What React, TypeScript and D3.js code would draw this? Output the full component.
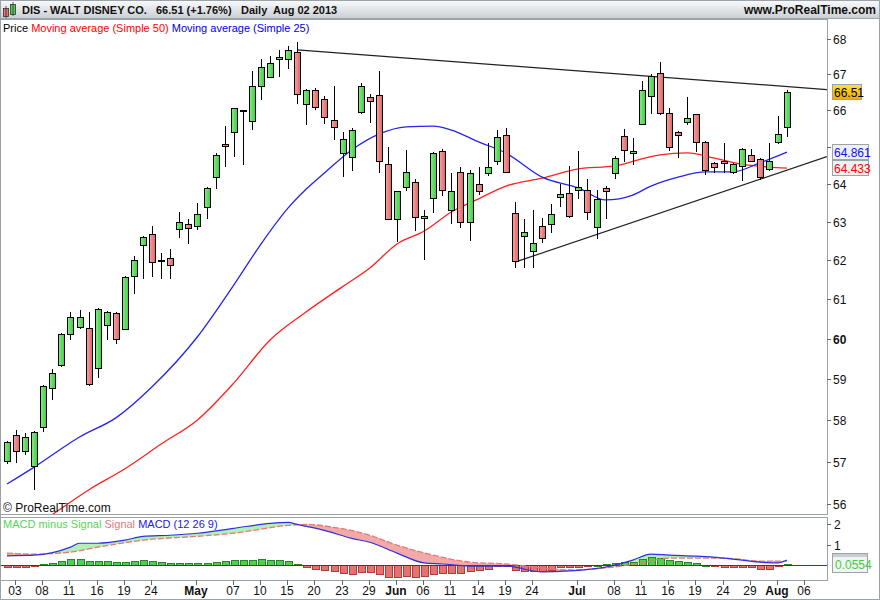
import * as d3 from 'd3';

// DIS daily, 2 Apr – 2 Aug 2013
const dates = [
  '04-02', '04-03', '04-04', '04-05', '04-08', '04-09', '04-10', '04-11', '04-12', '04-15', '04-16',
  '04-17', '04-18', '04-19', '04-22', '04-23', '04-24', '04-25', '04-26', '04-29', '04-30',
  '05-01', '05-02', '05-03', '05-06', '05-07', '05-08', '05-09', '05-10', '05-13', '05-14', '05-15',
  '05-16', '05-17', '05-20', '05-21', '05-22', '05-23', '05-24', '05-28', '05-29', '05-30', '05-31',
  '06-03', '06-04', '06-05', '06-06', '06-07', '06-10', '06-11', '06-12', '06-13', '06-14',
  '06-17', '06-18', '06-19', '06-20', '06-21', '06-24', '06-25', '06-26', '06-27', '06-28',
  '07-01', '07-02', '07-03', '07-05', '07-08', '07-09', '07-10', '07-11', '07-12', '07-15', '07-16',
  '07-17', '07-18', '07-19', '07-22', '07-23', '07-24', '07-25', '07-26', '07-29', '07-30', '07-31',
  '08-01', '08-02',
];

const open = [
  57.02, 57.64, 57.26, 56.9, 57.83, 58.78, 59.35, 60.12, 60.3, 60.28, 59.27,
  60.35, 60.65, 60.25, 61.59, 62.39, 62.68, 61.99, 62.05, 62.82, 62.95,
  62.89, 63.39, 64.18, 65.08, 65.42, 66.0, 65.72, 66.69, 66.94, 67.43, 67.43,
  67.63, 66.17, 66.58, 66.33, 65.75, 64.84, 64.74, 65.97, 66.36, 66.44, 64.55,
  63.08, 63.92, 64.05, 63.1, 63.63, 64.89, 63.32, 64.32, 63.0, 64.0,
  64.29, 64.61, 65.33, 63.24, 62.63, 62.24, 62.89, 62.95, 63.66, 63.76,
  63.84, 63.84, 62.87, 63.9, 64.29, 65.29, 64.84, 65.64, 66.39, 67.03, 65.94,
  65.42, 65.69, 65.89, 65.14, 64.58, 64.63, 64.32, 64.5, 64.79, 64.68, 64.42,
  65.14, 65.56,
];
const high = [
  57.5, 57.76, 57.69, 57.74, 58.85, 59.25, 60.15, 60.68, 60.72, 60.68, 60.78,
  60.7, 60.68, 61.6, 62.1, 62.63, 62.89, 62.18, 62.29, 63.26, 63.08,
  63.5, 63.92, 64.84, 65.58, 66.08, 66.02, 67.11, 67.43, 67.51, 67.69, 67.8,
  67.91, 66.6, 66.61, 66.39, 66.69, 65.42, 65.53, 66.75, 66.47, 67.11, 65.0,
  63.82, 64.92, 64.13, 63.32, 64.86, 64.95, 64.29, 64.45, 64.39, 64.45,
  65.11, 65.47, 65.53, 63.53, 63.08, 63.32, 63.1, 63.47, 64.0, 64.5,
  64.89, 64.13, 63.84, 63.95, 64.76, 65.5, 65.26, 66.83, 67.0, 67.36, 66.08,
  65.44, 66.36, 65.91, 65.16, 64.6, 65.11, 64.57, 64.97, 64.95, 64.7, 65.11,
  65.86, 66.58,
];
const low = [
  56.97, 57.0, 57.19, 56.36, 57.74, 58.5, 59.33, 60.0, 60.28, 58.86, 59.05,
  60.0, 59.9, 60.25, 61.15, 61.54, 61.59, 61.54, 61.54, 62.6, 62.45,
  62.82, 63.1, 63.9, 64.5, 64.76, 64.55, 65.5, 66.33, 66.92, 66.97, 67.17,
  66.2, 65.64, 66.03, 65.67, 65.22, 64.21, 64.37, 65.92, 65.69, 64.32, 63.08,
  62.5, 63.84, 62.79, 62.03, 63.26, 63.71, 62.97, 62.87, 62.53, 63.74,
  64.24, 64.55, 64.32, 61.82, 61.82, 61.82, 62.47, 62.74, 63.42, 63.14,
  63.63, 63.08, 62.58, 63.1, 64.16, 64.63, 64.55, 65.62, 65.92, 65.89, 64.92,
  64.74, 65.64, 64.89, 64.26, 64.32, 64.32, 64.29, 64.11, 64.61, 64.13, 64.37,
  65.11, 65.29,
];
const close = [
  57.47, 57.26, 57.6, 57.71, 58.83, 59.15, 60.12, 60.55, 60.55, 58.88, 60.75,
  60.68, 60.0, 61.56, 62.0, 62.6, 61.95, 62.0, 61.87, 63.0, 62.84,
  63.21, 63.9, 64.79, 65.03, 66.06, 65.98, 66.67, 67.2, 67.31, 67.49, 67.69,
  66.47, 66.58, 66.11, 65.83, 65.56, 65.22, 65.47, 66.69, 66.25, 64.63, 63.08,
  63.82, 64.34, 63.13, 63.16, 64.84, 63.84, 63.82, 63.0, 64.29, 63.82,
  64.47, 65.28, 64.34, 61.97, 62.74, 62.45, 62.58, 63.21, 63.74, 63.16,
  63.92, 63.26, 63.61, 63.82, 64.71, 64.92, 64.89, 66.58, 66.97, 65.92, 65.0,
  65.33, 65.8, 65.14, 64.39, 64.45, 64.58, 64.55, 64.95, 64.61, 64.18, 64.63,
  65.36, 66.51,
];

// moving averages, [day index, value]
const ma50 = [
  [4, 55.6], [9, 56.33], [13, 56.83], [17, 57.42], [21, 58.0], [25, 58.9], [29, 59.97],
  [33, 60.68], [37, 61.32], [40, 61.8], [43, 62.42], [46, 62.76], [49, 63.26], [52, 63.61],
  [55, 63.95], [59, 64.16], [63, 64.41], [67, 64.49], [70, 64.68], [72, 64.79], [75, 64.84],
  [78, 64.7], [81, 64.54], [84, 64.46], [86, 64.433],
];
const ma25 = [
  [0, 56.47], [3, 56.87], [8, 57.59], [12, 58.05], [16, 58.81], [21, 60.05], [25, 61.36],
  [28, 62.42], [31, 63.37], [33, 63.87], [35, 64.3], [38, 64.92], [41, 65.35], [44, 65.55],
  [47, 65.57], [49, 65.46], [52, 65.14], [55, 64.84], [59, 64.19], [63, 63.9], [66, 63.58],
  [69, 63.71], [71, 63.95], [74, 64.19], [77, 64.33], [80, 64.33], [83, 64.57], [86, 64.861],
];

// MACD (12 26 9)
const macdLine = [
  [0, 0.45], [3, 0.48], [7, 0.87], [8, 1.06], [10, 1.06], [13, 1.21], [15, 1.4], [18, 1.45],
  [21, 1.55], [25, 1.79], [29, 2.03], [31, 2.08], [32, 1.98], [35, 1.69], [38, 1.3], [40, 1.11],
  [43, 0.58], [46, 0.1], [48, 0.05], [51, -0.05], [55, -0.05], [59, -0.34], [62, -0.29],
  [66, -0.1], [69, 0.24], [71, 0.53], [73, 0.48], [76, 0.43], [79, 0.34], [83, 0.14],
  [85, 0.1], [86, 0.24],
];
const signalLine = [
  [0, 0.58], [3, 0.53], [7, 0.63], [10, 0.87], [15, 1.21], [21, 1.4], [25, 1.55], [31, 1.93],
  [33, 1.98], [36, 1.84], [40, 1.45], [43, 0.97], [47, 0.48], [51, 0.14], [55, 0.05],
  [59, -0.14], [62, -0.24], [66, -0.14], [70, 0.1], [73, 0.34], [79, 0.34], [83, 0.19], [86, 0.19],
];
const macdHist = [
  -0.1, -0.1, -0.08, -0.07, 0.05, 0.1, 0.19, 0.27, 0.27, 0.19, 0.18,
  0.18, 0.14, 0.14, 0.18, 0.23, 0.18, 0.14, 0.11, 0.1, 0.1,
  0.1, 0.1, 0.14, 0.21, 0.24, 0.23, 0.23, 0.27, 0.23, 0.23, 0.18,
  0.05, -0.08, -0.19, -0.26, -0.31, -0.4, -0.45, -0.35, -0.35, -0.45, -0.6,
  -0.6, -0.55, -0.6, -0.55, -0.45, -0.4, -0.4, -0.4, -0.29, -0.24,
  -0.21, -0.05, -0.03, -0.24, -0.27, -0.27, -0.27, -0.24, -0.11, -0.11,
  -0.08, -0.01, 0.01, 0.03, 0.08, 0.13, 0.16, 0.27, 0.37, 0.32, 0.24,
  0.18, 0.13, 0.08, 0.01, -0.06, -0.11, -0.11, -0.11, -0.11, -0.18, -0.18,
  -0.06, 0.0554,
];

// hand-drawn trendlines, [day index, price]
const trendUpper = [[32, 67.69], [90.4, 66.58]];
const trendLower = [[56, 61.95], [90.4, 64.74]];

const tickIdx = [1, 4, 7, 10, 13, 16, 21, 25, 28, 31, 34, 37, 40, 43, 46, 49, 52, 55, 58, 63, 67, 70, 73, 76, 79, 82, 85, 88];
const tickLabels = ['03', '08', '11', '16', '19', '24', 'May', '07', '10', '15', '20', '23', '29', 'Jun', '06', '11', '14', '19', '24', 'Jul', '08', '11', '16', '19', '24', '29', 'Aug', '06'];
const priceTicks = [56, 57, 58, 59, 60, 61, 62, 63, 64, 65, 66, 67, 68];
const macdTicks = [1, 2];

const FONT = "Arial, 'Liberation Sans', sans-serif";
const W = 880;
const H = 600;
const plotRight = 827;
const priceTop = 19;
const priceBottom = 514;
const macdTop = 517;
const macdBottom = 580;

const App = () => {
  const x = d3.scaleLinear().domain([0, 86]).range([7, 787]);
  const y = d3.scaleLog().domain([56, 68]).range([504, 39]);
  const ym = d3.scaleLinear().domain([0, 2]).range([565, 524]);

  const priceLine = d3.line<number[]>()
    .x((d) => x(d[0]))
    .y((d) => y(d[1]))
    .curve(d3.curveMonotoneX);
  const straight = d3.line<number[]>()
    .x((d) => x(d[0]))
    .y((d) => y(d[1]));
  const macdPath = d3.line<number[]>()
    .x((d) => x(d[0]))
    .y((d) => ym(d[1]))
    .curve(d3.curveMonotoneX);

  const areaBelow = d3.area<number[]>()
    .x((d) => x(d[0])).y0((d) => ym(d[1])).y1(macdBottom)
    .curve(d3.curveMonotoneX);
  const areaAbove = d3.area<number[]>()
    .x((d) => x(d[0])).y0(macdTop).y1((d) => ym(d[1]))
    .curve(d3.curveMonotoneX);

  const last = close.length - 1;
  const pct = (close[last] / close[last - 1] - 1) * 100;
  const ma25Last = ma25[ma25.length - 1][1];
  const ma50Last = ma50[ma50.length - 1][1];

  // value boxes on the price axis hide the tick labels underneath them
  const boxYs = [y(close[last]), y(ma25Last), y(ma50Last)];
  const hidden = (p: number) => boxYs.some((b) => Math.abs(b - y(p)) < 10);

  const candles = dates.map((d, i) => {
    const cx = Math.round(x(i));
    const up = close[i] >= open[i];
    const top = Math.round(y(Math.max(open[i], close[i])));
    const bot = Math.round(y(Math.min(open[i], close[i])));
    return (
      <g key={d}>
        <line x1={cx + 0.5} x2={cx + 0.5} y1={Math.round(y(high[i]))} y2={Math.round(y(low[i])) + 1}
          stroke="#000" strokeWidth={1} />
        <rect x={cx - 2.5} y={top + 0.5} width={6} height={Math.max(1, bot - top)}
          fill={up ? 'url(#gUp)' : 'url(#gDown)'} stroke="#000" strokeWidth={1} />
      </g>
    );
  });

  const bars = macdHist.map((v, i) => {
    const cx = Math.round(x(i));
    const y0 = Math.round(ym(0));
    const y1 = Math.round(ym(v));
    const pos = v >= 0;
    return (
      <rect key={i} x={cx - 2.5} y={(pos ? y1 : y0) + 0.5} width={7}
        height={Math.max(1, Math.abs(y1 - y0))}
        fill={pos ? '#4fcf4f' : '#e57171'} stroke={pos ? '#238a23' : '#b23c3c'} strokeWidth={1} />
    );
  });

  const valueBox = (cy: number, label: string, color: string, fill: string, w = 36) => (
    <g>
      <rect x={832.5} y={Math.round(cy) - 7.5} width={w} height={15} fill={fill} stroke="#9aa3aa" />
      <text x={834} y={Math.round(cy) + 4.5} fontSize={12} fill={color} fontFamily={FONT}>{label}</text>
    </g>
  );

  return (
    <svg width={W} height={H} style={{ position: 'absolute', left: 0, top: 0, display: 'block', background: '#fff' }}>
      <defs>
        <linearGradient id="hdr" x1="0" y1="0" x2="0" y2="1">
          <stop offset="0" stopColor="#fafbfc" />
          <stop offset="1" stopColor="#c9ced3" />
        </linearGradient>
        <linearGradient id="gUp" x1="0" y1="0" x2="1" y2="0">
          <stop offset="0" stopColor="#86ec86" />
          <stop offset="1" stopColor="#44c944" />
        </linearGradient>
        <linearGradient id="gDown" x1="0" y1="0" x2="1" y2="0">
          <stop offset="0" stopColor="#f5a3a3" />
          <stop offset="1" stopColor="#e06464" />
        </linearGradient>
        <linearGradient id="gold" x1="0" y1="0" x2="0" y2="1">
          <stop offset="0" stopColor="#ffe040" />
          <stop offset="1" stopColor="#f0a800" />
        </linearGradient>
        <clipPath id="priceClip">
          <rect x={0} y={priceTop} width={plotRight} height={priceBottom - priceTop} />
        </clipPath>
        <clipPath id="macdClip">
          <rect x={0} y={macdTop} width={plotRight} height={macdBottom - macdTop} />
        </clipPath>
        <clipPath id="aboveSig">
          <path d={areaAbove(signalLine) ?? ''} />
        </clipPath>
        <clipPath id="belowSig">
          <path d={areaBelow(signalLine) ?? ''} />
        </clipPath>
      </defs>

      {/* header */}
      <rect x={0} y={0} width={W} height={19} fill="url(#hdr)" />
      <line x1={0} x2={W} y1={18.5} y2={18.5} stroke="#9aa3aa" />
      <rect x={3.5} y={8.5} width={5} height={8} fill="#e57171" stroke="#333" strokeWidth={0.8} />
      <line x1={6} x2={6} y1={6} y2={18} stroke="#333" strokeWidth={0.8} />
      <rect x={10.5} y={4.5} width={5} height={10} fill="#4fcf4f" stroke="#333" strokeWidth={0.8} />
      <line x1={13} x2={13} y1={2} y2={16} stroke="#333" strokeWidth={0.8} />
      <g fontFamily={FONT} fontWeight="bold" fontSize={11} fill="#111">
        <text x={22} y={14}>DIS - WALT DISNEY CO.</text>
        <text x={156} y={14}>{close[last].toFixed(2)} (+{pct.toFixed(2)}%)</text>
        <text x={241} y={14}>Daily</text>
        <text x={273} y={14}>Aug 02 2013</text>
      </g>
      <text x={876} y={14} textAnchor="end" fontFamily={FONT} fontWeight="bold" fontSize={12} fill="#111">
        www.ProRealTime.com
      </text>

      {/* price panel */}
      <rect x={0.5} y={priceTop + 0.5} width={plotRight} height={priceBottom - priceTop} fill="#fff" stroke="#9aa3aa" />
      <text x={3} y={32} fontSize={11} fontFamily={FONT}>
        <tspan fill="#000">Price </tspan>
        <tspan fill="#ff0000">Moving average (Simple 50) </tspan>
        <tspan fill="#0000ee">Moving average (Simple 25)</tspan>
      </text>
      <g clipPath="url(#priceClip)">
        <path d={priceLine(ma50) ?? ''} fill="none" stroke="#ff2020" strokeWidth={1.3} />
        <path d={priceLine(ma25) ?? ''} fill="none" stroke="#2424f0" strokeWidth={1.3} />
        <path d={straight(trendUpper) ?? ''} fill="none" stroke="#222" strokeWidth={1.2} />
        <path d={straight(trendLower) ?? ''} fill="none" stroke="#222" strokeWidth={1.2} />
        {candles}
      </g>
      <text x={3} y={512} fontSize={12} fontFamily={FONT} fill="#111">© ProRealTime.com</text>

      {/* price axis */}
      {priceTicks.map((p) => (
        <g key={p}>
          <line x1={plotRight} x2={plotRight + 4} y1={Math.round(y(p)) + 0.5} y2={Math.round(y(p)) + 0.5} stroke="#666" />
          {!hidden(p) && (
            <text x={833} y={Math.round(y(p)) + 4.5} fontSize={12} fontFamily={FONT}
              fontWeight={p === 60 ? 'bold' : 'normal'} fill="#111">{p}</text>
          )}
        </g>
      ))}
      {valueBox(y(close[last]), close[last].toFixed(2), '#000', 'url(#gold)', 29)}
      {valueBox(y(ma25Last) - 0.5, ma25Last.toFixed(3), '#1010ff', '#eef0f2')}
      {valueBox(y(ma50Last), ma50Last.toFixed(3), '#ff0000', '#eef0f2')}

      {/* MACD panel */}
      <rect x={0.5} y={macdTop + 0.5} width={plotRight} height={macdBottom - macdTop} fill="#fff" stroke="#9aa3aa" />
      <g clipPath="url(#macdClip)">
        <g clipPath="url(#aboveSig)">
          <path d={areaBelow(macdLine) ?? ''} fill="#b4efb4" />
        </g>
        <g clipPath="url(#belowSig)">
          <path d={areaAbove(macdLine) ?? ''} fill="#f2a9a9" />
        </g>
        {bars}
        <line x1={0} x2={plotRight} y1={Math.round(ym(0)) + 0.5} y2={Math.round(ym(0)) + 0.5} stroke="#2a2ad8" strokeWidth={1.2} />
        <path d={macdPath(signalLine) ?? ''} fill="none" stroke="#e27a7a" strokeWidth={1.3} strokeDasharray="6 2" />
        <path d={macdPath(macdLine) ?? ''} fill="none" stroke="#3030e0" strokeWidth={1.2} />
      </g>
      <text x={3} y={528} fontSize={11} fontFamily={FONT}>
        <tspan fill="#55d655">MACD minus Signal </tspan>
        <tspan fill="#e27a7a">Signal </tspan>
        <tspan fill="#2020e0">MACD (12 26 9)</tspan>
      </text>
      {macdTicks.map((t) => (
        <g key={t}>
          <line x1={plotRight} x2={plotRight + 4} y1={Math.round(ym(t)) + 0.5} y2={Math.round(ym(t)) + 0.5} stroke="#666" />
          <text x={834} y={Math.round(ym(t)) + 4.5} fontSize={12} fontFamily={FONT} fill="#111">{t}</text>
        </g>
      ))}
      <rect x={832.5} y={553.5} width={35} height={19} fill="#f2f3f3" stroke="#9aa3aa" />
      <rect x={833} y={554} width={34} height={3} fill="#c8cdd1" />
      <text x={835} y={569} fontSize={12} fontFamily={FONT} fill="#44cc44">
        {macdHist[last].toFixed(4)}
      </text>

      {/* time axis */}
      {tickIdx.map((t, i) => {
        const isMonth = tickLabels[i].length === 3;
        const tx = Math.round(x(t));
        return (
          <g key={t}>
            <line x1={tx - 0.5} x2={tx - 0.5} y1={macdBottom} y2={macdBottom + 5} stroke="#666" />
            <text x={tx - 1} y={595} textAnchor="middle" fontSize={12} fontFamily={FONT}
              fontWeight={isMonth ? 'bold' : 'normal'} fill="#111">{tickLabels[i]}</text>
          </g>
        );
      })}

      <rect x={0.5} y={0.5} width={W - 1} height={H - 1} fill="none" stroke="#9aa3aa" />
    </svg>
  );
};

export default App;
